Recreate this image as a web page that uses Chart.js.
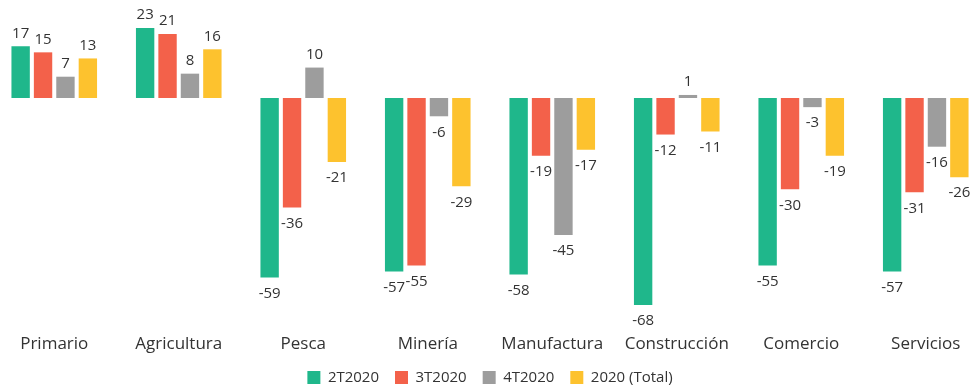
<!DOCTYPE html>
<html>
<head>
<meta charset="utf-8">
<script src="https://cdn.jsdelivr.net/npm/chart.js@4/dist/chart.umd.min.js"></script>
<style>
  html, body { margin: 0; padding: 0; background: #fff; overflow: hidden; }
  #wrap { position: relative; left: -8px; width: 996px; height: 395px; }
</style>
</head>
<body>
<div id="wrap"><canvas id="sectorChart"></canvas></div>
<script>
// Variación por sector (%)
const A_sectores = ["Primario", "Agricultura", "Pesca", "Minería", "Manufactura", "Construcción", "Comercio", "Servicios"];
const A_series = ["2T2020", "3T2020", "4T2020", "2020 (Total)"];
const A_colores = ["#1fb78b", "#f3614a", "#9d9d9d", "#fdc22e"];

const A_2T2020 = [17, 23, -59, -57, -58, -68, -55, -57];
const A_3T2020 = [15, 21, -36, -55, -19, -12, -30, -31];
const A_4T2020 = [7, 8, 10, -6, -45, 1, -3, -16];
const A_total2020 = [13, 16, -21, -29, -17, -11, -19, -26];

const A_valores = [A_2T2020, A_3T2020, A_4T2020, A_total2020];

const S_font = "'Open Sans', 'DejaVu Sans', sans-serif";

// etiquetas de valor encima / debajo de cada barra
const valueLabels = {
    id: "valueLabels",
    afterDatasetsDraw(chart) {
        const ctx = chart.ctx;
        ctx.save();
        ctx.font = "15px " + S_font;
        ctx.fillStyle = "#333333";
        ctx.textAlign = "center";
        ctx.textBaseline = "middle";
        chart.data.datasets.forEach((ds, i) => {
            const meta = chart.getDatasetMeta(i);
            meta.data.forEach((bar, j) => {
                const v = ds.data[j];
                const y = v >= 0 ? bar.y - 13 : bar.y + 16;
                ctx.fillText(String(v), bar.x, y);
            });
        });
        ctx.restore();
    }
};

new Chart("sectorChart", {
    type: "bar",
    data: {
        labels: A_sectores,
        datasets: A_series.map((S_name, i) => ({
            label: S_name,
            data: A_valores[i],
            backgroundColor: A_colores[i],
            borderWidth: 0,
            barPercentage: 0.82,
            categoryPercentage: 0.72
        }))
    },
    options: {
        responsive: true,
        maintainAspectRatio: false,
        animation: false,
        layout: { padding: { top: 28, left: 0, right: 0, bottom: 0 } },
        scales: {
            x: {
                grid: { display: false },
                border: { display: false },
                ticks: {
                    color: "#333333",
                    font: { family: S_font, size: 17 },
                    padding: 21,
                    maxRotation: 0,
                    autoSkip: false
                },
                afterFit(scale) {
                    scale.height = 49;
                }
            },
            y: {
                display: false,
                min: -68,
                max: 23
            }
        },
        plugins: {
            legend: {
                position: "bottom",
                labels: {
                    color: "#333333",
                    font: { family: S_font, size: 15 },
                    boxWidth: 13,
                    boxHeight: 13,
                    padding: 16
                }
            },
            tooltip: { enabled: false }
        }
    },
    plugins: [valueLabels]
});
</script>
</body>
</html>
